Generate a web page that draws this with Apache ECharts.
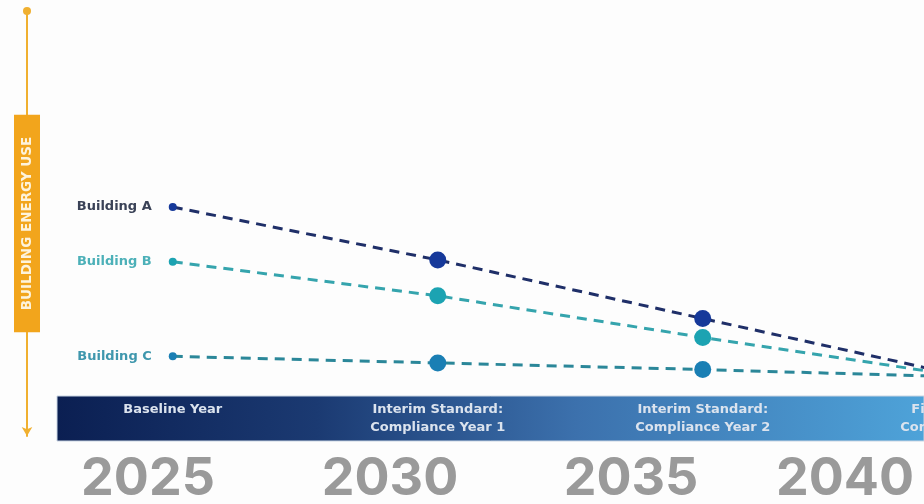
<!DOCTYPE html>
<html>
<head>
<meta charset="utf-8">
<script src="https://cdn.jsdelivr.net/npm/echarts@6/dist/echarts.min.js"></script>
<style>
  html, body { margin: 0; padding: 0; background: #fdfdfd; }
  #chart { width: 924px; height: 504px; }
</style>
</head>
<body>
<div id="chart"></div>
<script>
// Compliance stages along the timeline (index positions on the x axis)
const stages = [0, 1, 2, 3];
const stageLabels = [
  'Baseline Year',
  'Interim Standard:\nCompliance Year 1',
  'Interim Standard:\nCompliance Year 2',
  'Final Standard:\nCompliance Year 3'
];
const yearLabels = ['2025', '2030', '2035', '2040'];

// Relative energy use per building at each stage
const buildingNames = ['Building A', 'Building B', 'Building C'];
const buildingA = [100, 72, 41, 10];
const buildingB = [71, 53, 31, 10];
const buildingC = [21, 17.5, 14, 10];

const lineColors = ['#1f2f68', '#35a4ad', '#2b8799'];
const dotColors = ['#16399a', '#1ca3b2', '#1a7fb4'];
const nameColors = ['#3a4257', '#4cb0b8', '#3f97ad'];

const chart = echarts.init(document.getElementById('chart'));

function buildSeries(name, values, i) {
  return {
    name: name,
    type: 'line',
    data: stages.map((s, k) => ({
      value: [s, values[k]],
      symbolSize: k === 0 ? 8 : 17,
      label: k === 0 ? {
        show: true,
        position: 'left',
        distance: 17,
        formatter: name,
        color: nameColors[i],
        fontFamily: 'DejaVu Sans',
        fontWeight: 'bold',
        fontSize: 13
      } : { show: false }
    })),
    symbol: 'circle',
    showSymbol: true,
    lineStyle: { color: lineColors[i], width: 3, type: [10, 7] },
    itemStyle: { color: dotColors[i] },
    z: 5 - i,
    animation: false
  };
}

// Year captions under the timeline band
const yearX = [148, 390, 631, 845];

const yRange = { min: -21.16, max: 203.7 };

chart.setOption({
  backgroundColor: '#fdfdfd',
  animation: false,
  grid: {
    left: 27, right: -96.75, top: 11, bottom: 68,
    containLabel: false,
    outerBoundsMode: 'none'
  },
  xAxis: {
    type: 'value',
    min: -0.55,
    max: 3.2,
    axisLine: { show: false, onZero: false },
    axisTick: { show: false },
    splitLine: { show: false },
    axisLabel: {
      customValues: stages,
      formatter: v => stageLabels[Math.round(v)],
      margin: -35,
      verticalAlign: 'top',
      lineHeight: 18,
      color: '#dbe3ee',
      fontFamily: 'DejaVu Sans',
      fontWeight: 'bold',
      fontSize: 13
    },
    z: 10
  },
  yAxis: [
    {
      // orange arrow line of the energy-use axis
      type: 'value',
      min: yRange.min,
      max: yRange.max,
      axisLine: {
        show: true,
        onZero: false,
        lineStyle: { color: '#f0b030', width: 2 },
        symbol: ['arrow', 'circle'],
        symbolSize: [8, 9]
      },
      axisTick: { show: false },
      axisLabel: { show: false },
      splitLine: { show: false },
      z: 1
    },
    {
      // axis title badge, drawn above the line
      type: 'value',
      position: 'left',
      min: yRange.min,
      max: yRange.max,
      name: 'BUILDING ENERGY USE',
      nameLocation: 'middle',
      nameRotate: 90,
      nameGap: -13,
      nameTextStyle: {
        color: '#fdf3dc',
        backgroundColor: '#f2a51c',
        fontFamily: 'DejaVu Sans',
        fontWeight: 'bold',
        fontSize: 13.5,
        padding: [6, 22, 6, 22]
      },
      axisLine: { show: false, onZero: false },
      axisTick: { show: false },
      axisLabel: { show: false },
      splitLine: { show: false },
      z: 5
    }
  ],
  graphic: [
    {
      type: 'rect',
      z: 0,
      shape: { x: 57, y: 396, width: 867, height: 45 },
      style: {
        fill: new echarts.graphic.LinearGradient(0, 0, 1, 0, [
          { offset: 0, color: '#0b1f52' },
          { offset: 0.3, color: '#1b3a72' },
          { offset: 0.6, color: '#3c71ad' },
          { offset: 1, color: '#4ea3d9' }
        ]),
        stroke: '#c9d5e3',
        lineWidth: 1
      }
    }
  ].concat(yearLabels.map((t, i) => ({
    type: 'text',
    x: yearX[i],
    y: 479,
    style: {
      text: t,
      align: 'center',
      verticalAlign: 'middle',
      fill: '#9a9a9a',
      font: 'bold 52px Inter'
    }
  }))),
  series: [
    buildSeries(buildingNames[0], buildingA, 0),
    buildSeries(buildingNames[1], buildingB, 1),
    buildSeries(buildingNames[2], buildingC, 2)
  ]
});
</script>
</body>
</html>
